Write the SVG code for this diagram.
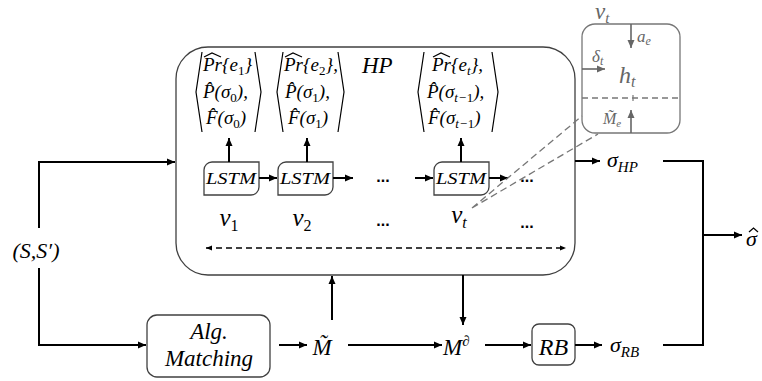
<svg xmlns="http://www.w3.org/2000/svg" width="762" height="381" viewBox="0 0 762 381">
<defs>
<marker id="ah" markerUnits="userSpaceOnUse" markerWidth="9" markerHeight="8" refX="8" refY="4" orient="auto"><path d="M0,0.5 L8,4 L0,7.5 z" fill="#000"/></marker>
<marker id="ahg" markerUnits="userSpaceOnUse" markerWidth="9" markerHeight="8" refX="8" refY="4" orient="auto"><path d="M0,0.5 L8,4 L0,7.5 z" fill="#666"/></marker>
<marker id="ahs" markerUnits="userSpaceOnUse" markerWidth="7" markerHeight="6" refX="6" refY="3" orient="auto-start-reverse"><path d="M0,0.5 L6,3 L0,5.5 z" fill="#000"/></marker>
</defs>
<style>
.m{font-family:'Liberation Serif','DejaVu Serif',serif;font-style:italic;fill:#000}
.g{fill:#666}
.box{fill:#fff;stroke:#404040;stroke-width:1.3}
.ln{fill:none;stroke:#000;stroke-width:2}
.gl{fill:none;stroke:#666;stroke-width:1.6}
.br{fill:none;stroke:#000;stroke-width:1.2}
.dots{font-family:'Liberation Sans',sans-serif;font-size:16px;font-weight:bold}
</style>

<g id="hp">
<rect class="box" x="176" y="47" width="399" height="228" rx="32"/>
<text class="m" x="362" y="73" font-size="23">HP</text>
</g>

<g id="tuple1">
<path class="br" d="M202,52 L196,92 L202,132 M255,52 L261,92 L255,132"/>
<path class="br" d="M204,57 L212,53 L221,57"/>
<text class="m" x="203" y="71" font-size="19">Pr{e<tspan font-size="13" dy="4" font-style="normal">1</tspan><tspan dy="-4">}</tspan></text>
<text class="m" x="203" y="98" font-size="19">P̂(σ<tspan font-size="13" dy="4" font-style="normal">0</tspan><tspan dy="-4">),</tspan></text>
<text class="m" x="206" y="124" font-size="19">F̂(σ<tspan font-size="13" dy="4" font-style="normal">0</tspan><tspan dy="-4">)</tspan></text>
</g>
<g id="tuple2">
<path class="br" d="M283,52 L277,92 L283,132 M338,52 L344,92 L338,132"/>
<path class="br" d="M285,57 L293,53 L302,57"/>
<text class="m" x="284" y="71" font-size="19">Pr{e<tspan font-size="13" dy="4" font-style="normal">2</tspan><tspan dy="-4">},</tspan></text>
<text class="m" x="285" y="98" font-size="19">P̂(σ<tspan font-size="13" dy="4" font-style="normal">1</tspan><tspan dy="-4">),</tspan></text>
<text class="m" x="288" y="124" font-size="19">F̂(σ<tspan font-size="13" dy="4" font-style="normal">1</tspan><tspan dy="-4">)</tspan></text>
</g>
<g id="tuple3">
<path class="br" d="M424,52 L418,92 L424,132 M492,52 L498,92 L492,132"/>
<path class="br" d="M433,57 L441,53 L450,57"/>
<text class="m" x="432" y="71" font-size="19">Pr{e<tspan font-size="13" dy="4">t</tspan><tspan dy="-4">},</tspan></text>
<text class="m" x="427" y="98" font-size="19">P̂(σ<tspan font-size="13" dy="4">t−<tspan font-style="normal">1</tspan></tspan><tspan dy="-4">),</tspan></text>
<text class="m" x="428" y="124" font-size="19">F̂(σ<tspan font-size="13" dy="4">t−<tspan font-style="normal">1</tspan></tspan><tspan dy="-4">)</tspan></text>
</g>

<g id="lstm1">
<path class="box" d="M212,162 H259 V187 A8,8 0 0 1 251,195 H204 V170 A8,8 0 0 1 212,162 z"/>
<text class="m" x="206" y="184" font-size="17" textLength="50" lengthAdjust="spacingAndGlyphs">LSTM</text>
</g>
<g id="lstm2">
<path class="box" d="M286,162 H333 V187 A8,8 0 0 1 325,195 H278 V170 A8,8 0 0 1 286,162 z"/>
<text class="m" x="280" y="184" font-size="17" textLength="50" lengthAdjust="spacingAndGlyphs">LSTM</text>
</g>
<g id="lstm3">
<path class="box" d="M442,162 H489 V187 A8,8 0 0 1 481,195 H434 V170 A8,8 0 0 1 442,162 z"/>
<text class="m" x="436" y="184" font-size="17" textLength="50" lengthAdjust="spacingAndGlyphs">LSTM</text>
</g>

<g id="labels">
<text class="dots" x="383" y="182" text-anchor="middle">...</text>
<text class="dots" x="527" y="182" text-anchor="middle">...</text>
<text class="m" x="229" y="226" font-size="25" text-anchor="middle">v<tspan font-size="16" dy="5" font-style="normal">1</tspan></text>
<text class="m" x="302" y="226" font-size="25" text-anchor="middle">v<tspan font-size="16" dy="5" font-style="normal">2</tspan></text>
<text class="dots" x="383" y="226" text-anchor="middle">...</text>
<text class="m" x="459" y="223" font-size="25" text-anchor="middle">v<tspan font-size="16" dy="5">t</tspan></text>
<text class="dots" x="527" y="228" text-anchor="middle">...</text>
</g>

<g id="vt-detail">
<rect x="582" y="24" width="98" height="109" rx="13" fill="#fff" stroke="#777" stroke-width="1.3"/>
<line x1="582" y1="98" x2="680" y2="98" stroke="#777" stroke-width="1.5" stroke-dasharray="6,4"/>
<line x1="633" y1="95" x2="633" y2="101" stroke="#777" stroke-width="1.2"/>
<path class="gl" d="M631,24 V48" marker-end="url(#ahg)"/>
<path class="gl" d="M582,69 H605" marker-end="url(#ahg)"/>
<path class="gl" d="M631,133 V110" marker-end="url(#ahg)"/>
<text class="m g" x="595" y="19" font-size="23">v<tspan font-size="15" dy="4">t</tspan></text>
<text class="m g" x="637" y="42" font-size="17">a<tspan font-size="12" dy="3">e</tspan></text>
<text class="m g" x="592" y="62" font-size="17">δ<tspan font-size="12" dy="3">t</tspan></text>
<text class="m g" x="619" y="83" font-size="24">h<tspan font-size="16" dy="4">t</tspan></text>
<text class="m g" x="603" y="124" font-size="16">M̃<tspan font-size="11" dy="3">e</tspan></text>
</g>

<g id="ss">
<text class="m" x="36" y="258" font-size="22" text-anchor="middle">(S,S′)</text>
</g>
<g id="alg">
<rect class="box" x="147" y="315" width="123" height="62" rx="10"/>
<text class="m" x="209" y="339" font-size="23" text-anchor="middle">Alg.</text>
<text class="m" x="209" y="366" font-size="23" text-anchor="middle">Matching</text>
</g>
<g id="mt"><text class="m" x="322" y="355" font-size="23" text-anchor="middle">M̃</text></g>
<g id="md"><text class="m" x="443" y="355" font-size="23">M<tspan font-size="15" dy="-9" font-style="normal">∂</tspan></text></g>
<g id="rb">
<rect class="box" x="532" y="324" width="43" height="41" rx="7"/>
<text class="m" x="553.5" y="355" font-size="24" text-anchor="middle">RB</text>
</g>
<g id="shp"><text class="m" x="607" y="167" font-size="22">σ<tspan font-size="15" dy="5">HP</tspan></text></g>
<g id="srb"><text class="m" x="610" y="352" font-size="22">σ<tspan font-size="15" dy="5">RB</tspan></text></g>
<g id="sout">
<text class="m" x="746" y="246" font-size="22">σ</text>
<path d="M749,232 L753.5,228 L758,232" fill="none" stroke="#000" stroke-width="1.3"/>
</g>

<g id="connectors">
<path class="ln" d="M39,228 V162 H175" marker-end="url(#ah)"/>
<path class="ln" d="M39,268 V345 H146" marker-end="url(#ah)"/>
<path class="ln" d="M259,178 H277" marker-end="url(#ah)"/>
<path class="ln" d="M333,178 H353" marker-end="url(#ah)"/>
<path class="ln" d="M415,178 H433" marker-end="url(#ah)"/>
<path class="ln" d="M489,178 H508" marker-end="url(#ah)"/>
<path class="ln" d="M229,162 V138" marker-end="url(#ah)"/>
<path class="ln" d="M307,162 V138" marker-end="url(#ah)"/>
<path class="ln" d="M461,162 V138" marker-end="url(#ah)"/>
<path class="ln" d="M575,161 H600" marker-end="url(#ah)"/>
<path class="ln" d="M663,161 H703 V345 H663"/>
<path class="ln" d="M703,235 H742" marker-end="url(#ah)"/>
<path class="ln" d="M279,345 H307" marker-end="url(#ah)"/>
<path class="ln" d="M332,320 V276" marker-end="url(#ah)"/>
<path class="ln" d="M348,345 H442" marker-end="url(#ah)"/>
<path class="ln" d="M463,275 V325" marker-end="url(#ah)"/>
<path class="ln" d="M485,345 H531" marker-end="url(#ah)"/>
<path class="ln" d="M575,345 H602" marker-end="url(#ah)"/>
<path d="M206,248 H566" fill="none" stroke="#000" stroke-width="1.5" stroke-dasharray="6,4" marker-start="url(#ahs)" marker-end="url(#ahs)"/>
<path d="M472,208 L582,116 M472,208 L598,134" fill="none" stroke="#777" stroke-width="1.3" stroke-dasharray="7,4"/>
</g>
</svg>
